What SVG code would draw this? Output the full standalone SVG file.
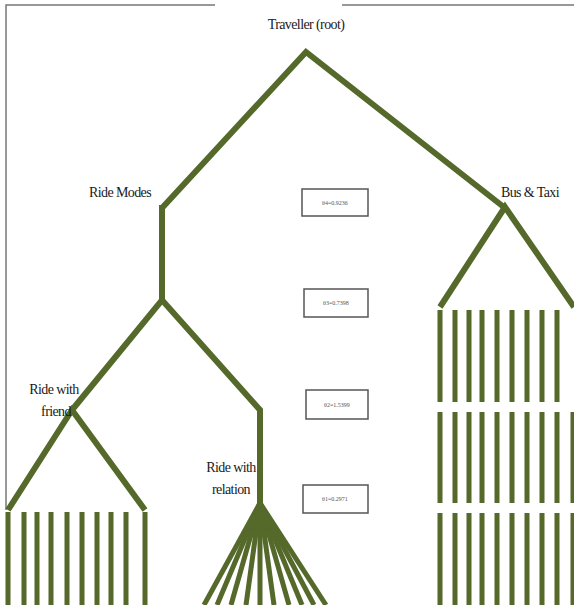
<svg xmlns="http://www.w3.org/2000/svg" width="574" height="605" viewBox="0 0 574 605">
<style>
.br{stroke:#55692b;stroke-width:6;fill:none;stroke-linejoin:miter;stroke-linecap:butt}
.bar{stroke:#55692b;stroke-width:5;fill:none}
.lbl{font-family:"Liberation Serif","DejaVu Serif","Times New Roman",serif;font-size:14px;fill:#1a1a1a;letter-spacing:-0.6px}
.th{font-family:"Liberation Serif","DejaVu Serif","Times New Roman",serif;font-size:6px;fill:#555}
.box{fill:#fff;stroke:#555;stroke-width:1.5}
.frame{stroke:#777;stroke-width:1.5;fill:none}
</style>
<rect width="574" height="605" fill="#fff"/>
<g id="frame">
<path class="frame" d="M6,510 V5 H215 M342,5 H574"/>
</g>
<g id="connectors">
<path class="br" d="M162,208 L306,52 L505,208"/>
<path class="br" d="M162,205 V300"/>
<path class="br" d="M72,410 L162,300 L260,410 V505"/>
<path class="br" d="M8,510 L72,410 L145,510"/>
<path class="br" d="M440,307 L505,207 L574,307"/>
<g id="relation-fan" class="br" style="stroke-width:5">
<path d="M260,503 L204,605"/>
<path d="M260,503 L217,605"/>
<path d="M260,503 L231,605"/>
<path d="M260,503 L246,605"/>
<path d="M260,503 L260,605"/>
<path d="M260,503 L274,605"/>
<path d="M260,503 L289,605"/>
<path d="M260,503 L302,605"/>
<path d="M260,503 L314,605"/>
<path d="M260,503 L326,605"/>
</g>
<g id="friend-bars" class="bar">
<path d="M8,512V605M24,512V605M37,512V605M51,512V605M67,512V605M82,512V605M97,512V605M111,512V605M126,512V605M145,512V605"/>
</g>
<g id="bus-bars" class="bar">
<path d="M440,310V402M455,310V402M469,310V402M482,310V402M497,310V402M512,310V402M527,310V402M542,310V402M557,310V402"/>
<path d="M440,412V503M455,412V503M469,412V503M482,412V503M497,412V503M512,412V503M527,412V503M542,412V503M557,412V503M573,412V503"/>
<path d="M440,513V605M455,513V605M469,513V605M482,513V605M497,513V605M512,513V605M527,513V605M542,513V605M557,513V605M573,513V605"/>
</g>
</g>
<g id="root"><text class="lbl" x="306" y="29" text-anchor="middle">Traveller (root)</text></g>
<g id="ride-modes"><text class="lbl" x="120" y="197" text-anchor="middle">Ride Modes</text></g>
<g id="bus-taxi"><text class="lbl" x="530" y="197" text-anchor="middle">Bus &amp; Taxi</text></g>
<g id="ride-friend"><text class="lbl" x="54" y="394" text-anchor="middle">Ride with</text><text class="lbl" x="56" y="416" text-anchor="middle">friend</text></g>
<g id="ride-relation"><text class="lbl" x="231" y="472" text-anchor="middle">Ride with</text><text class="lbl" x="231" y="494" text-anchor="middle">relation</text></g>
<g id="theta4"><rect class="box" x="302" y="189" width="66" height="27"/><text class="th" x="335" y="204.5" text-anchor="middle">θ4=0.9236</text></g>
<g id="theta3"><rect class="box" x="304" y="289" width="64" height="28"/><text class="th" x="336" y="305" text-anchor="middle">θ3=0.7398</text></g>
<g id="theta2"><rect class="box" x="306" y="390" width="62" height="29"/><text class="th" x="337" y="406.5" text-anchor="middle">θ2=1.5399</text></g>
<g id="theta1"><rect class="box" x="303" y="485" width="65" height="28"/><text class="th" x="335" y="501" text-anchor="middle">θ1=0.2971</text></g>
</svg>
